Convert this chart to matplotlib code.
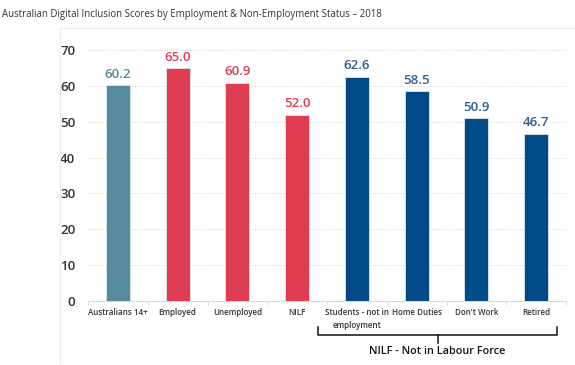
import matplotlib.pyplot as plt
import numpy as np
from matplotlib.patches import Rectangle

plt.rcParams['font.family'] = ['Open Sans', 'DejaVu Sans']

categories = ["Australians 14+", "Employed", "Unemployed", "NILF",
              "Students - not in\nemployment", "Home Duties", "Don't Work", "Retired"]
scores = [60.2, 65.0, 60.9, 52.0, 62.6, 58.5, 50.9, 46.7]
colors = ["#568a9f", "#e03c52", "#e03c52", "#e03c52",
          "#004a87", "#004a87", "#004a87", "#004a87"]
label_colors = ["#568a9f", "#e03c52", "#e03c52", "#e03c52",
                "#2f5b8f", "#2f5b8f", "#2f5b8f", "#2f5b8f"]

fig = plt.figure(figsize=(5.75, 3.65), dpi=100)
fig.patches.append(Rectangle((60/575, 0), 1, 1 - 28/365, transform=fig.transFigure,
                             fill=False, edgecolor="#ececec", linewidth=0.8))
fig.text(0.003, 0.975, "Australian Digital Inclusion Scores by Employment & Non-Employment Status \u2013 2018",
         fontsize=6.9, color="#333333", va="top")

ax = fig.add_axes([88/575, 1 - 301/365, 478/575, 251/365])
x = np.arange(len(categories))
ax.bar(x, scores, width=0.4, color=colors, edgecolor="#dfe6ee", linewidth=0.6, zorder=3)
for xi, v, c in zip(x, scores, label_colors):
    ax.text(xi, v + 1.2, f"{v:.1f}", ha="center", va="bottom", fontsize=9.5,
            color=c, fontweight="semibold")

ax.set_xlim(-0.5, len(categories) - 0.5)
ax.set_ylim(0, 70)
ax.set_yticks(range(0, 71, 10))
ax.yaxis.grid(True, linestyle=(0, (1, 2)), color="#d0d0d0", linewidth=0.7)
ax.set_axisbelow(True)
for s in ["top", "right", "left"]:
    ax.spines[s].set_visible(False)
ax.spines["bottom"].set_color("#d9d9d9")
ax.set_xticks(x)
ax.set_xticklabels(categories, fontsize=5.8, color="#333333", linespacing=1.6,
                   fontweight="semibold")
ax.set_xticks(np.arange(-0.5, len(categories), 1), minor=True)
ax.tick_params(axis="x", which="major", length=0, pad=5)
ax.tick_params(axis="x", which="minor", length=3, color="#d9d9d9")
ax.tick_params(axis="y", length=0, labelsize=9.5, labelcolor="#333333", pad=9)
for t in ax.get_yticklabels():
    t.set_fontweight("semibold")

# brace under the NILF sub-groups
tr = ax.get_xaxis_transform()
y0, y1 = -0.104, -0.135
bx0, bx1 = 3.35, 7.35
mid = (bx0 + bx1) / 2
ax.plot([bx0, bx0, bx1, bx1], [y0, y1, y1, y0], transform=tr, color="#111111",
        linewidth=1.1, clip_on=False)
ax.plot([mid, mid], [y1, -0.167], transform=tr, color="#111111",
        linewidth=1.1, clip_on=False)
ax.text(mid, -0.203, "NILF - Not in Labour Force", transform=tr, ha="center", va="center",
        fontsize=7.8, color="#111111", fontweight="semibold")

fig.savefig("out.png", dpi=100)
